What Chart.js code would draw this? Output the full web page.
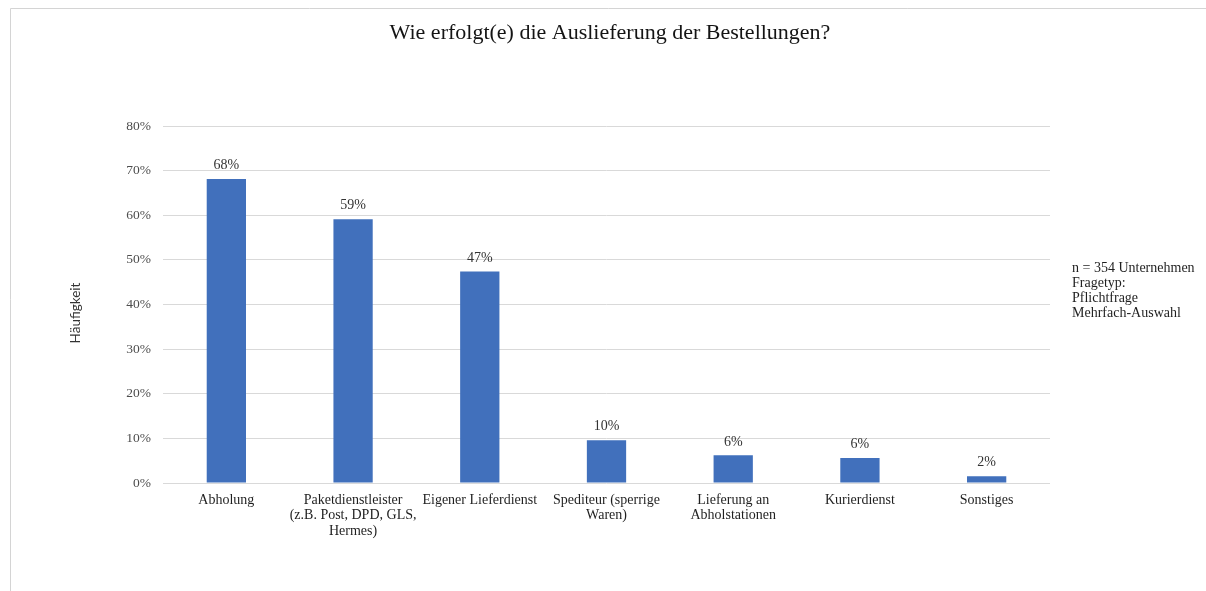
<!DOCTYPE html>
<html lang="de">
<head>
<meta charset="utf-8">
<title>Wie erfolgt(e) die Auslieferung der Bestellungen?</title>
<script src="https://cdn.jsdelivr.net/npm/chart.js@4/dist/chart.umd.min.js"></script>
<style>
  html, body { margin: 0; padding: 0; background: #ffffff; }
  #wrap { width: 1206px; height: 591px; position: relative; }
</style>
</head>
<body>
<div id="wrap"><canvas id="chart" width="1206" height="591"></canvas></div>
<script>
// Versandwege (Mehrfachauswahl), Anteil der Unternehmen in Prozent
const categories = [
  'Abholung',
  ['Paketdienstleister', '(z.B. Post, DPD, GLS,', 'Hermes)'],
  'Eigener Lieferdienst',
  ['Spediteur (sperrige', 'Waren)'],
  ['Lieferung an', 'Abholstationen'],
  'Kurierdienst',
  'Sonstiges'
];
const shares = [68.1, 59.1, 47.4, 9.6, 6.2, 5.6, 1.5];
const yTicks = [0, 10, 20, 30, 40, 50, 60, 70, 80];

const titleText = 'Wie erfolgt(e) die Auslieferung der Bestellungen?';
const yAxisTitle = 'Häufigkeit';
const noteLines = ['n = 354 Unternehmen', 'Fragetyp:', 'Pflichtfrage', 'Mehrfach-Auswahl'];

const SERIF = '"Liberation Serif", "DejaVu Serif", serif';
const BAR_COLOR = '#4170BC';

// Rahmen, Überschrift, Achsentitel und Hinweistext
const decorations = {
  id: 'decorations',
  beforeDraw(chart) {
    const ctx = chart.ctx;
    ctx.save();
    ctx.fillStyle = '#ffffff';
    ctx.fillRect(0, 0, chart.width, chart.height);
    ctx.strokeStyle = '#d4d4d4';
    ctx.lineWidth = 1;
    ctx.beginPath();
    ctx.moveTo(10.5, chart.height);
    ctx.lineTo(10.5, 8.5);
    ctx.lineTo(chart.width, 8.5);
    ctx.stroke();
    ctx.restore();
  },
  afterDraw(chart) {
    const ctx = chart.ctx;
    // Überschrift über der gesamten Grafik
    ctx.save();
    ctx.font = '22px ' + SERIF;
    ctx.fillStyle = '#141414';
    ctx.textAlign = 'center';
    ctx.textBaseline = 'middle';
    ctx.fillText(titleText, 610, 33);
    ctx.restore();
    // Achsentitel
    ctx.save();
    ctx.translate(76, 313);
    ctx.rotate(-Math.PI / 2);
    ctx.font = '13.5px Lato, "Open Sans", sans-serif';
    ctx.fillStyle = '#333333';
    ctx.textAlign = 'center';
    ctx.textBaseline = 'middle';
    ctx.fillText(yAxisTitle, 0, 0);
    ctx.restore();
    // Hinweis rechts neben der Grafik
    ctx.save();
    ctx.font = '14px ' + SERIF;
    ctx.fillStyle = '#1f1f1f';
    ctx.textAlign = 'left';
    ctx.textBaseline = 'middle';
    noteLines.forEach((line, i) => ctx.fillText(line, 1072, 268 + i * 15));
    ctx.restore();
  }
};

// Wertebeschriftung über den Säulen
const valueLabels = {
  id: 'valueLabels',
  afterDatasetsDraw(chart) {
    const ctx = chart.ctx;
    const meta = chart.getDatasetMeta(0);
    ctx.save();
    ctx.font = '14px ' + SERIF;
    ctx.fillStyle = '#333333';
    ctx.textAlign = 'center';
    ctx.textBaseline = 'middle';
    meta.data.forEach((bar, i) => {
      ctx.fillText(Math.round(shares[i]) + '%', bar.x, bar.y - 13.5);
    });
    ctx.restore();
  }
};

new Chart(document.getElementById('chart'), {
  type: 'bar',
  data: {
    labels: categories,
    datasets: [{
      data: shares,
      backgroundColor: BAR_COLOR,
      borderWidth: 0,
      barPercentage: 0.31,
      categoryPercentage: 1
    }]
  },
  options: {
    responsive: false,
    animation: false,
    layout: { padding: { left: 0, right: 156, top: 126, bottom: 0 } },
    plugins: {
      legend: { display: false },
      tooltip: { enabled: false },
      title: { display: false }
    },
    scales: {
      x: {
        grid: { display: false, drawTicks: false },
        border: { display: false },
        ticks: {
          color: '#1f1f1f',
          font: { family: SERIF, size: 14, lineHeight: 1.12 },
          maxRotation: 0,
          minRotation: 0,
          autoSkip: false,
          padding: 9
        },
        afterFit(scale) { scale.height = 108; }
      },
      y: {
        min: 0,
        max: 80,
        afterBuildTicks(scale) { scale.ticks = yTicks.map(v => ({ value: v })); },
        grid: { color: '#d9d9d9', lineWidth: 1, drawTicks: false },
        border: { display: false },
        ticks: {
          color: '#4d4d4d',
          font: { family: SERIF, size: 13.5 },
          padding: 12,
          callback: v => v + '%'
        },
        afterFit(scale) { scale.width = 163; }
      }
    }
  },
  plugins: [decorations, valueLabels]
});
</script>
</body>
</html>
